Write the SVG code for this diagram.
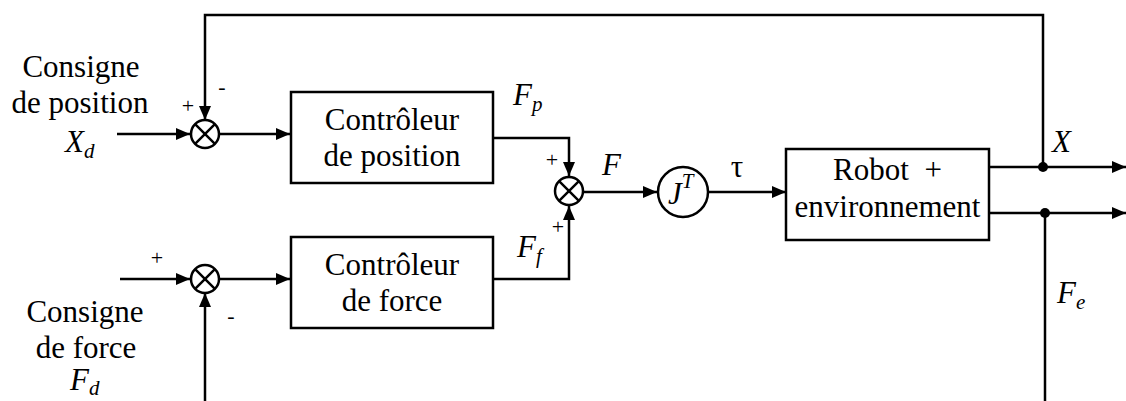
<svg xmlns="http://www.w3.org/2000/svg" width="1126" height="401" viewBox="0 0 1126 401">
<style>
.ln{fill:none;stroke:#000;stroke-width:2.5}
.bx{fill:#fff;stroke:#000;stroke-width:2.5}
text{font-family:'Liberation Serif','Times New Roman','DejaVu Serif',serif;fill:#000}
.t{font-size:31px}
.c{text-anchor:middle}
.i{font-style:italic}
.s{font-size:21px;font-style:italic}
.sg{font-size:22px;text-anchor:middle}
</style>
<defs>
<marker id="ah" viewBox="0 0 14 12" refX="14" refY="6" markerWidth="14" markerHeight="12" markerUnits="userSpaceOnUse" orient="auto">
<path d="M0,0 L14,6 L0,12 Z" fill="#000"/>
</marker>
</defs>
<rect width="1126" height="401" fill="#fff"/>
<g id="connectors">
<path class="ln" d="M117,134 H190" marker-end="url(#ah)"/>
<path class="ln" d="M1043,166 V15 H205 V120" marker-end="url(#ah)"/>
<path class="ln" d="M219,134 H290" marker-end="url(#ah)"/>
<path class="ln" d="M493,138 H569 V176" marker-end="url(#ah)"/>
<path class="ln" d="M493,279 H569 V206" marker-end="url(#ah)"/>
<path class="ln" d="M584,192 H657" marker-end="url(#ah)"/>
<path class="ln" d="M708,192 H786" marker-end="url(#ah)"/>
<path class="ln" d="M989,167 H1126" marker-end="url(#ah)"/>
<path class="ln" d="M989,213 H1126" marker-end="url(#ah)"/>
<path class="ln" d="M1045,213 V401"/>
<path class="ln" d="M120,279 H190" marker-end="url(#ah)"/>
<path class="ln" d="M205,401 V293" marker-end="url(#ah)"/>
<path class="ln" d="M219,279 H290" marker-end="url(#ah)"/>
<circle cx="1043" cy="167" r="5" fill="#000"/>
<circle cx="1045" cy="213" r="5" fill="#000"/>
</g>
<g id="in-position" font-family="Liberation Serif, Times New Roman, serif">
<text class="t c" x="81" y="77" font-family="Liberation Serif, serif">Consigne</text>
<text class="t c" x="80" y="113" font-family="Liberation Serif, serif">de position</text>
<text class="t i" x="65" y="152" font-family="Liberation Serif, serif">X<tspan class="s" dy="6">d</tspan></text>
</g>
<g id="in-force">
<text class="t c" x="85" y="322" font-family="Liberation Serif, serif">Consigne</text>
<text class="t c" x="86" y="358" font-family="Liberation Serif, serif">de force</text>
<text class="t i" x="70" y="390" font-family="Liberation Serif, serif">F<tspan class="s" dy="5">d</tspan></text>
</g>
<g id="sum1">
<circle class="bx" cx="205" cy="134" r="14"/>
<path class="ln" d="M195.1,124.1 L214.9,143.9 M214.9,124.1 L195.1,143.9"/>
<text class="sg" x="188" y="113" font-family="Liberation Serif, serif">+</text>
<text class="sg" x="222" y="94" font-family="Liberation Serif, serif">-</text>
</g>
<g id="sum3">
<circle class="bx" cx="205" cy="279" r="14"/>
<path class="ln" d="M195.1,269.1 L214.9,288.9 M214.9,269.1 L195.1,288.9"/>
<text class="sg" x="157" y="265" font-family="Liberation Serif, serif">+</text>
<text class="sg" x="231" y="323" font-family="Liberation Serif, serif">-</text>
</g>
<g id="ctrl-position">
<rect class="bx" x="291" y="92" width="202" height="91"/>
<text class="t c" x="392" y="130" font-family="Liberation Serif, serif">Contrôleur</text>
<text class="t c" x="392" y="166" font-family="Liberation Serif, serif">de position</text>
</g>
<g id="ctrl-force">
<rect class="bx" x="291" y="237" width="202" height="91"/>
<text class="t c" x="392" y="275" font-family="Liberation Serif, serif">Contrôleur</text>
<text class="t c" x="392" y="311" font-family="Liberation Serif, serif">de force</text>
</g>
<g id="sum2">
<circle class="bx" cx="569" cy="191" r="14"/>
<path class="ln" d="M559.1,181.1 L578.9,200.9 M578.9,181.1 L559.1,200.9"/>
<text class="sg" x="552" y="167" font-family="Liberation Serif, serif">+</text>
<text class="sg" x="558" y="234" font-family="Liberation Serif, serif">+</text>
<text class="t i" x="513" y="105" font-family="Liberation Serif, serif">F<tspan class="s" dy="6">p</tspan></text>
<text class="t i" x="517" y="257" font-family="Liberation Serif, serif">F<tspan class="s" dy="6">f</tspan></text>
<text class="t i" x="602" y="175" font-family="Liberation Serif, serif">F</text>
</g>
<g id="jacobian">
<circle class="bx" cx="683" cy="192" r="25"/>
<text class="t i" x="668" y="204" font-family="Liberation Serif, serif">J<tspan class="s" dy="-16">T</tspan></text>
<text class="t c" x="737" y="177" font-family="Liberation Serif, serif">τ</text>
</g>
<g id="robot">
<rect class="bx" x="786" y="149" width="203" height="91"/>
<text class="t c" x="887.5" y="180" style="white-space:pre" font-family="Liberation Serif, serif">Robot  +</text>
<text class="t c" x="887.5" y="217" font-family="Liberation Serif, serif">environnement</text>
</g>
<g id="outputs">
<text class="t i" x="1052" y="152" font-family="Liberation Serif, serif">X</text>
<text class="t i" x="1057" y="303" font-family="Liberation Serif, serif">F<tspan class="s" dy="6">e</tspan></text>
</g>
</svg>
